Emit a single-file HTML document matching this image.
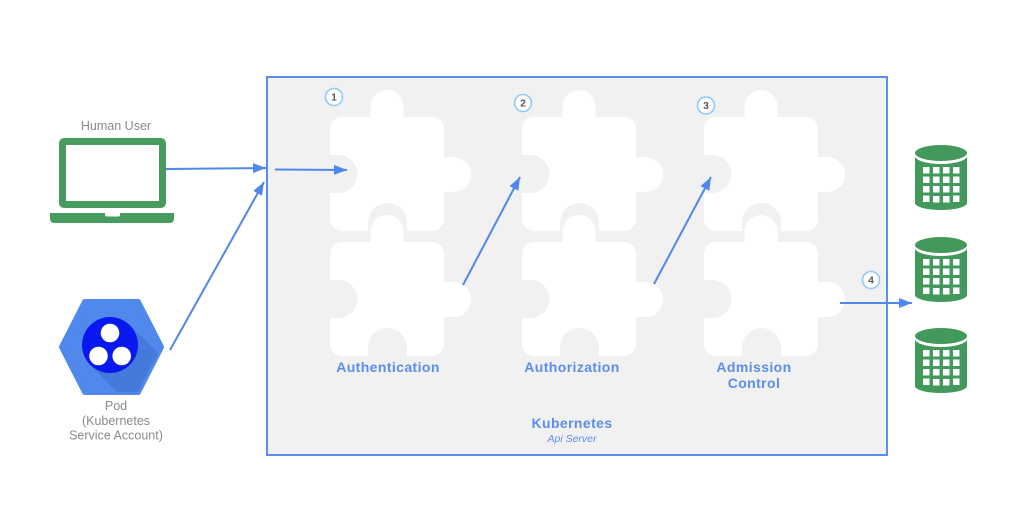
<!DOCTYPE html>
<html><head><meta charset="utf-8"><style>
html,body{margin:0;padding:0;background:#fff;}
svg{display:block;}
.lbl{font-family:"Liberation Sans",sans-serif;font-weight:bold;font-size:14px;fill:#5b8def;letter-spacing:0.4px;}
.gry{font-family:"Liberation Sans",sans-serif;font-size:12.5px;fill:#8a8a8a;}
.num{font-family:"Liberation Sans",sans-serif;font-weight:bold;font-size:10px;fill:#555;}
</style></head><body>
<svg width="1024" height="521" viewBox="0 0 1024 521" xmlns="http://www.w3.org/2000/svg">
<defs>
<marker id="ah" markerUnits="userSpaceOnUse" markerWidth="13" markerHeight="10" refX="13" refY="5" orient="auto">
<path d="M0,0 L13,5 L0,10 z" fill="#4f87ee"/>
</marker>
<path id="pz" d="M 0 12 A 12 12 0 0 1 12 0 L 40.5 0 L 40.5 -10.5 A 16.5 16.5 0 0 1 73.5 -10.5 L 73.5 0 L 102 0 A 12 12 0 0 1 114 12 L 114 40 L 123.5 40 A 17.5 17.5 0 0 1 123.5 75 L 114 75 L 114 102 A 12 12 0 0 1 102 114 L 77 114 L 77 105.5 A 19.5 19.5 0 0 0 38 105.5 L 38 114 L 12 114 A 12 12 0 0 1 0 102 L 0 76 L 8.5 76 A 19 19 0 0 0 8.5 38 L 0 38 Z" fill="#ffffff"/>
<g id="db">
<ellipse cx="26" cy="8" rx="26" ry="8" fill="#43985b"/>
<path d="M 0 11 A 26 8 0 0 0 52 11 L 52 58 A 26 7 0 0 1 0 58 Z" fill="#43985b"/>
<g fill="#fff">
<rect x="8" y="22" width="6.5" height="6.5"/><rect x="18" y="22" width="6.5" height="6.5"/><rect x="28" y="22" width="6.5" height="6.5"/><rect x="38" y="22" width="6.5" height="6.5"/>
<rect x="8" y="31.5" width="6.5" height="6.5"/><rect x="18" y="31.5" width="6.5" height="6.5"/><rect x="28" y="31.5" width="6.5" height="6.5"/><rect x="38" y="31.5" width="6.5" height="6.5"/>
<rect x="8" y="41" width="6.5" height="6.5"/><rect x="18" y="41" width="6.5" height="6.5"/><rect x="28" y="41" width="6.5" height="6.5"/><rect x="38" y="41" width="6.5" height="6.5"/>
<rect x="8" y="50.5" width="6.5" height="6.5"/><rect x="18" y="51" width="6.5" height="6.5"/><rect x="28" y="51" width="6.5" height="6.5"/><rect x="38" y="50.5" width="6.5" height="6.5"/>
</g>
</g>
<clipPath id="hexclip"><polygon points="62,347 85,302 138,302 161,347 138,392 85,392"/></clipPath>
</defs>

<rect x="267" y="77" width="620" height="378" fill="#f1f1f1" stroke="#5b8def" stroke-width="2"/>

<use href="#pz" x="330" y="117"/>
<use href="#pz" x="330" y="242"/>
<use href="#pz" x="522" y="117"/>
<use href="#pz" x="522" y="242"/>
<use href="#pz" x="704" y="117"/>
<use href="#pz" x="704" y="242"/>

<g fill="#fff" stroke="#8fcbf7" stroke-width="1.6">
<circle cx="334" cy="97" r="8.5"/>
<circle cx="523" cy="103" r="8.5"/>
<circle cx="706" cy="105.5" r="8.5"/>
<circle cx="871" cy="280" r="8.5"/>
</g>
<text class="num" x="334" y="100.5" text-anchor="middle">1</text>
<text class="num" x="523" y="106.5" text-anchor="middle">2</text>
<text class="num" x="706" y="109" text-anchor="middle">3</text>
<text class="num" x="871" y="283.5" text-anchor="middle">4</text>

<text class="lbl" x="388" y="372" text-anchor="middle">Authentication</text>
<text class="lbl" x="572" y="372" text-anchor="middle">Authorization</text>
<text class="lbl" x="754" y="372" text-anchor="middle">Admission</text>
<text class="lbl" x="754" y="388" text-anchor="middle">Control</text>
<text class="lbl" x="572" y="428" text-anchor="middle">Kubernetes</text>
<text x="572" y="442" text-anchor="middle" font-family="Liberation Sans, sans-serif" font-style="italic" font-size="10.5" fill="#5b8def">Api Server</text>

<g stroke="#4f87ee" stroke-width="2" fill="none">
<line x1="166" y1="169" x2="266" y2="168" marker-end="url(#ah)"/>
<line x1="275" y1="169.5" x2="347" y2="170" marker-end="url(#ah)"/>
<line x1="170" y1="350" x2="264" y2="182" marker-end="url(#ah)"/>
<line x1="463" y1="285" x2="520" y2="177" marker-end="url(#ah)"/>
<line x1="654" y1="284" x2="711" y2="177" marker-end="url(#ah)"/>
<line x1="840" y1="303" x2="912" y2="303" marker-end="url(#ah)"/>
</g>

<text class="gry" x="116" y="130" text-anchor="middle">Human User</text>
<rect x="62.5" y="141.5" width="100" height="63" rx="1.5" fill="#fff" stroke="#479b5f" stroke-width="7"/>
<path d="M 50 213 L 174 213 L 174 219 A 4 4 0 0 1 170 223 L 54 223 A 4 4 0 0 1 50 219 Z" fill="#479b5f"/>
<path d="M 105 213 L 120 213 L 120 215 A 1.5 1.5 0 0 1 118.5 216.5 L 106.5 216.5 A 1.5 1.5 0 0 1 105 215 Z" fill="#fff"/>

<polygon points="62,347 85,302 138,302 161,347 138,392 85,392" fill="#5088ec" stroke="#5088ec" stroke-width="6" stroke-linejoin="round"/>
<g clip-path="url(#hexclip)">
<polygon points="90,365 130,325 200,395 160,435" fill="#4579dc"/>
</g>
<circle cx="110" cy="345" r="28" fill="#0a18f0"/>
<circle cx="110" cy="333" r="9.3" fill="#fff"/>
<circle cx="98.5" cy="356" r="9.3" fill="#fff"/>
<circle cx="121.7" cy="356" r="9.3" fill="#fff"/>
<text class="gry" x="116" y="410" text-anchor="middle">Pod</text>
<text class="gry" x="116" y="425" text-anchor="middle">(Kubernetes</text>
<text class="gry" x="116" y="439.5" text-anchor="middle">Service Account)</text>

<use href="#db" x="915" y="145"/>
<use href="#db" x="915" y="237"/>
<use href="#db" x="915" y="328"/>
</svg>
</body></html>
